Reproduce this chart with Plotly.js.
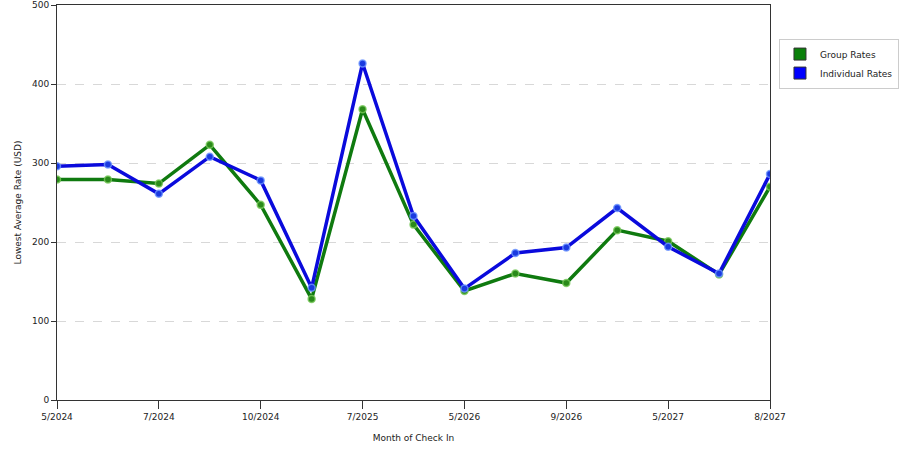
<!DOCTYPE html>
<html>
<head>
<meta charset="utf-8">
<script src="https://cdn.plot.ly/plotly-3.0.1.min.js"></script>
<style>html,body{margin:0;padding:0;background:#fff;}#chart{width:900px;height:450px;}</style>
</head>
<body>
<div id="chart"></div>
<script>
var pointIndex = [0,1,2,3,4,5,6,7,8,9,10,11,12,13,14];
var groupRates = [279, 279, 274, 323, 247, 128, 368, 222, 138, 160, 148, 215, 201, 159, 270];
var individualRates = [296, 298, 261, 308, 278, 142, 426, 233, 141, 186, 193, 243, 194, 160, 286];
var tickPositions = [0, 2, 4, 6, 8, 10, 12, 14];
var tickLabels = ['5/2024','7/2024','10/2024','7/2025','5/2026','9/2026','5/2027','8/2027'];

var green = '#0f7a0f';
var blue = '#0a0adc';
var fontFam = 'DejaVu Sans, Verdana, sans-serif';

var traces = [
  {x: pointIndex, y: groupRates, type: 'scatter', mode: 'lines+markers', name: 'Group Rates', showlegend: false,
   line: {color: green, width: 3.5}, marker: {color: '#2a8a1a', size: 7, line: {color: 'rgba(120,200,90,0.8)', width: 1.5}}},
  {x: pointIndex, y: individualRates, type: 'scatter', mode: 'lines+markers', name: 'Individual Rates', showlegend: false,
   line: {color: blue, width: 3.5}, marker: {color: '#1a3ae0', size: 7, line: {color: 'rgba(110,150,255,0.8)', width: 1.5}}},
  {x: [null], y: [null], type: 'bar', name: 'Group Rates', marker: {color: '#0a800a', line: {color: '#333', width: 1}}},
  {x: [null], y: [null], type: 'bar', name: 'Individual Rates', marker: {color: '#0000ff', line: {color: '#333', width: 1}}}
];

var layout = {
  width: 900, height: 450,
  margin: {l: 57, r: 130, t: 5, b: 50, autoexpand: false},
  paper_bgcolor: '#fff', plot_bgcolor: '#fff',
  font: {family: fontFam, size: 9, color: '#222'},
  showlegend: true,
  legend: {x: 1.0126, xanchor: 'left', y: 0.915, yanchor: 'top', bordercolor: '#cccccc', borderwidth: 1,
           bgcolor: '#fff', font: {family: fontFam, size: 9, color: '#222'}, tracegroupgap: 4, itemwidth: 30},
  xaxis: {
    range: [0, 14], tickmode: 'array', tickvals: tickPositions, ticktext: tickLabels,
    showline: true, linecolor: '#333', linewidth: 1, mirror: true,
    ticks: 'outside', ticklen: 8, tickcolor: '#333', showgrid: false, zeroline: false,
    title: {text: 'Month of Check In', font: {family: fontFam, size: 9, color: '#222'}, standoff: 13},
    fixedrange: true
  },
  yaxis: {
    range: [0, 500], tickvals: [0,100,200,300,400,500],
    showline: true, linecolor: '#333', linewidth: 1, mirror: true,
    ticks: 'outside', ticklen: 5, tickcolor: '#333',
    showgrid: true, gridcolor: '#d8d8d8', griddash: 'dash', zeroline: false,
    title: {text: 'Lowest Average Rate (USD)', font: {family: fontFam, size: 9, color: '#222'}, standoff: 8},
    fixedrange: true
  }
};

Plotly.newPlot('chart', traces, layout, {displayModeBar: false, staticPlot: true});
</script>
</body>
</html>
